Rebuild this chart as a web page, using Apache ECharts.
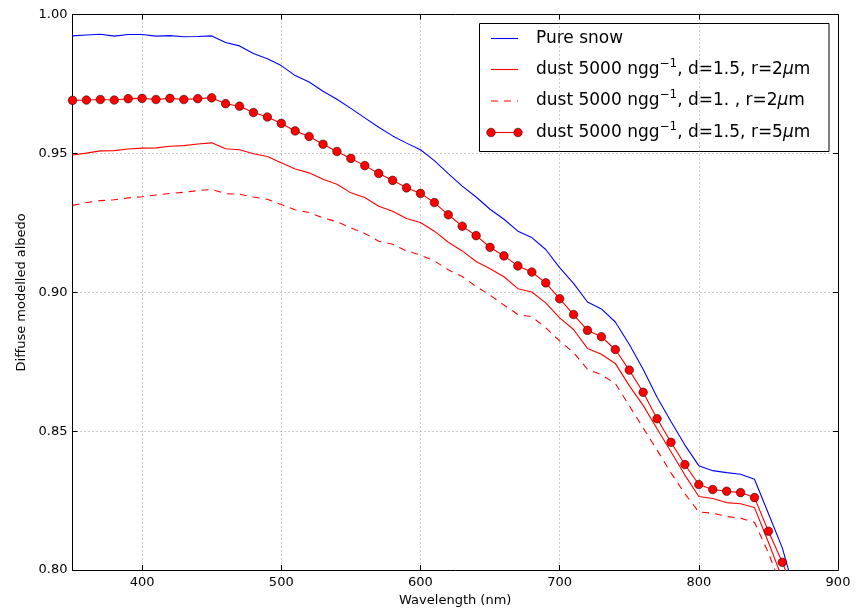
<!DOCTYPE html>
<html>
<head>
<meta charset="utf-8">
<script src="https://cdn.jsdelivr.net/npm/echarts@6/dist/echarts.min.js"></script>
<style>
  html, body { margin: 0; padding: 0; background: #fff; overflow: hidden; }
  #chart { width: 861px; height: 612px; }
</style>
</head>
<body>
<div id="chart"></div>
<script>
// Wavelengths (nm), 10 nm steps
const wavelengths = [350,360,370,380,390,400,410,420,430,440,450,460,470,480,490,500,510,520,530,540,550,560,570,580,590,600,610,620,630,640,650,660,670,680,690,700,710,720,730,740,750,760,770,780,790,800,810,820,830,840,850,860,870];

// Diffuse albedo for each case
const pureSnow = [0.9923,0.9926,0.9929,0.9922,0.9928,0.9928,0.9922,0.9924,0.9920,0.9921,0.9923,0.9899,0.9887,0.9860,0.9841,0.9816,0.9780,0.9757,0.9724,0.9695,0.9662,0.9628,0.9594,0.9563,0.9537,0.9513,0.9474,0.9427,0.9382,0.9343,0.9299,0.9263,0.9220,0.9197,0.9154,0.9089,0.9032,0.8965,0.8940,0.8893,0.8813,0.8723,0.8622,0.8535,0.8450,0.8376,0.8358,0.8351,0.8345,0.8327,0.8204,0.8080,0.7900];
const dustD15R2 = [0.9494,0.9501,0.9509,0.9510,0.9516,0.9519,0.9520,0.9526,0.9528,0.9534,0.9538,0.9517,0.9513,0.9499,0.9489,0.9466,0.9444,0.9430,0.9407,0.9389,0.9358,0.9341,0.9310,0.9292,0.9266,0.9251,0.9220,0.9180,0.9149,0.9111,0.9085,0.9056,0.9013,0.9001,0.8962,0.8908,0.8866,0.8798,0.8777,0.8744,0.8664,0.8593,0.8509,0.8426,0.8342,0.8265,0.8258,0.8243,0.8239,0.8225,0.8100,0.7970,0.7840];
const dustD10R2 = [0.9313,0.9323,0.9330,0.9333,0.9340,0.9344,0.9350,0.9356,0.9360,0.9366,0.9370,0.9355,0.9353,0.9343,0.9335,0.9316,0.9297,0.9287,0.9268,0.9254,0.9232,0.9212,0.9184,0.9173,0.9149,0.9134,0.9113,0.9081,0.9057,0.9021,0.8990,0.8954,0.8920,0.8912,0.8872,0.8825,0.8783,0.8723,0.8703,0.8672,0.8592,0.8512,0.8432,0.8350,0.8275,0.8209,0.8205,0.8193,0.8187,0.8172,0.8062,0.7930,0.7800];
const dustD15R5 = [0.9691,0.9692,0.9694,0.9692,0.9697,0.9698,0.9694,0.9698,0.9694,0.9697,0.9700,0.9679,0.9670,0.9647,0.9631,0.9608,0.9581,0.9561,0.9533,0.9507,0.9482,0.9456,0.9428,0.9403,0.9376,0.9356,0.9323,0.9279,0.9238,0.9204,0.9162,0.9131,0.9095,0.9073,0.9034,0.8977,0.8920,0.8863,0.8840,0.8794,0.8720,0.8640,0.8545,0.8460,0.8380,0.8308,0.8290,0.8284,0.8279,0.8261,0.8140,0.8028,0.7900];

const xRange = [350, 900];
const yRange = [0.80, 1.00];
const yStep = 0.05;

const FONT = '"DejaVu Sans", sans-serif';

const pair = (ys) => wavelengths.map((w, i) => [w, ys[i]]);

const chart = echarts.init(document.getElementById('chart'), null, { renderer: 'canvas' });

const gridLine = { show: true, lineStyle: { color: '#808080', width: 0.8, type: [1, 3] } };
const spine = { show: true, onZero: false, lineStyle: { color: '#000', width: 1 } };
const tickIn = { show: true, inside: true, length: 5, lineStyle: { color: '#000', width: 1 } };

// Legend drawn as a framed box with line/marker samples
const legendX = 479.5, legendY = 23.5, legendW = 349.5, legendH = 128;
const rowY = [38.5, 69.5, 101, 132.5];
const sampleX0 = 491, sampleX1 = 518, textX = 536;
const richStyles = {
  sup: { fontSize: 12, fontFamily: FONT, fill: '#000', verticalAlign: 'top', lineHeight: 24 },
  mu: { fontSize: 17, fontFamily: FONT, fontStyle: 'italic', fill: '#000', lineHeight: 24 }
};
const legendLabels = [
  'Pure snow',
  'dust 5000 ngg{sup|\u22121}, d=1.5, r=2{mu|\u03bc}m',
  'dust 5000 ngg{sup|\u22121}, d=1. , r=2{mu|\u03bc}m',
  'dust 5000 ngg{sup|\u22121}, d=1.5, r=5{mu|\u03bc}m'
];
const legendEls = [
  { type: 'rect', shape: { x: legendX, y: legendY, width: legendW, height: legendH },
    style: { fill: '#fff', stroke: '#000', lineWidth: 1 } },
  { type: 'line', shape: { x1: sampleX0, y1: rowY[0], x2: sampleX1, y2: rowY[0] },
    style: { stroke: '#0000ff', lineWidth: 1.1 } },
  { type: 'line', shape: { x1: sampleX0, y1: rowY[1], x2: sampleX1, y2: rowY[1] },
    style: { stroke: '#ff0000', lineWidth: 1.1 } },
  { type: 'line', shape: { x1: sampleX0, y1: rowY[2], x2: sampleX1, y2: rowY[2] },
    style: { stroke: '#ff0000', lineWidth: 1.1, lineDash: [7, 6] } },
  { type: 'line', shape: { x1: sampleX0, y1: rowY[3], x2: sampleX1, y2: rowY[3] },
    style: { stroke: '#ff0000', lineWidth: 1.1 } },
  { type: 'circle', shape: { cx: sampleX0, cy: rowY[3], r: 4.3 },
    style: { fill: '#ff0000', stroke: '#000', lineWidth: 0.5 } },
  { type: 'circle', shape: { cx: sampleX1, cy: rowY[3], r: 4.3 },
    style: { fill: '#ff0000', stroke: '#000', lineWidth: 0.5 } }
];
legendLabels.forEach((t, i) => {
  legendEls.push({
    type: 'text', x: textX, y: rowY[i],
    style: { text: t, fontSize: 17, fontFamily: FONT, fill: '#000',
             verticalAlign: 'middle', align: 'left', lineHeight: 24, rich: richStyles }
  });
});

chart.setOption({
  animation: false,
  backgroundColor: '#fff',
  grid: { left: 72.5, right: 23, top: 14.5, bottom: 38, containLabel: false },
  xAxis: [
    {
      type: 'value', min: xRange[0], max: xRange[1], minInterval: 100, maxInterval: 100,
      name: 'Wavelength (nm)', nameLocation: 'middle', nameGap: 22,
      nameTextStyle: { fontFamily: FONT, fontSize: 13, color: '#000' },
      axisLine: spine, axisTick: tickIn, splitLine: gridLine,
      axisLabel: { fontFamily: FONT, fontSize: 13, color: '#000', margin: 6,
                   formatter: v => (v === xRange[0] ? '' : String(v)) }
    },
    {
      type: 'value', position: 'top', min: xRange[0], max: xRange[1], minInterval: 100, maxInterval: 100,
      axisLine: spine, axisTick: tickIn, splitLine: { show: false }, axisLabel: { show: false }
    }
  ],
  yAxis: [
    {
      type: 'value', min: yRange[0], max: yRange[1], interval: yStep,
      name: 'Diffuse modelled albedo', nameLocation: 'middle', nameGap: 39,
      nameTextStyle: { fontFamily: FONT, fontSize: 13, color: '#000' },
      axisLine: spine, axisTick: tickIn, splitLine: gridLine,
      axisLabel: { fontFamily: FONT, fontSize: 13, color: '#000', margin: 5,
                   formatter: v => v.toFixed(2) }
    },
    {
      type: 'value', position: 'right', min: yRange[0], max: yRange[1], interval: yStep,
      axisLine: spine, axisTick: tickIn, splitLine: { show: false }, axisLabel: { show: false }
    }
  ],
  series: [
    { name: 'Pure snow', type: 'line', data: pair(pureSnow), showSymbol: false, clip: true,
      lineStyle: { color: '#0000ff', width: 1.1 }, itemStyle: { color: '#0000ff' } },
    { name: 'dust d=1.5 r=2', type: 'line', data: pair(dustD15R2), showSymbol: false, clip: true,
      lineStyle: { color: '#ff0000', width: 1.1 }, itemStyle: { color: '#ff0000' } },
    { name: 'dust d=1 r=2', type: 'line', data: pair(dustD10R2), showSymbol: false, clip: true,
      lineStyle: { color: '#ff0000', width: 1.1, type: [7, 6] }, itemStyle: { color: '#ff0000' } },
    { name: 'dust d=1.5 r=5', type: 'line', data: pair(dustD15R5), clip: true,
      symbol: 'circle', symbolSize: 8.6, showAllSymbol: true,
      lineStyle: { color: '#ff0000', width: 1.1 },
      itemStyle: { color: '#ff0000', borderColor: '#000', borderWidth: 0.5 } }
  ],
  graphic: legendEls
});
</script>
</body>
</html>
